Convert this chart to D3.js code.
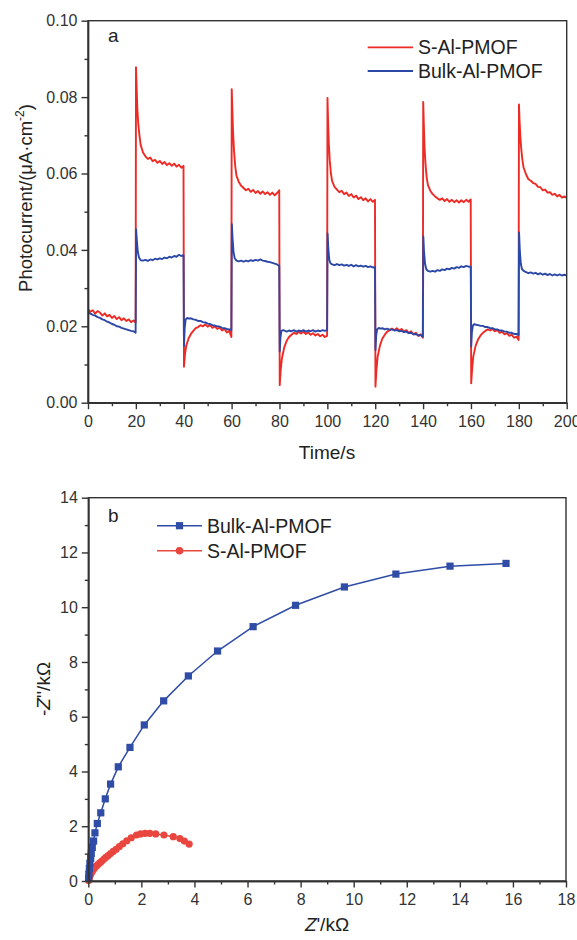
<!DOCTYPE html>
<html>
<head>
<meta charset="utf-8">
<script src="https://cdn.jsdelivr.net/npm/d3@7"></script>
<style>
  html, body { margin: 0; padding: 0; background: #fff; }
  svg { display: block; font-family: "Liberation Sans", Arial, sans-serif; }
  .axis path, .axis line { stroke: #333; stroke-width: 1.4; }
  .axis text { fill: #333; font-size: 16px; font-family: "Liberation Sans", Arial, sans-serif; }
</style>
</head>
<body>
<script>
const red = '#ee2a24'
const blue = '#2c48a6'
const eisRed = '#e8463f'
const eisBlue = '#2f4ca6'

// panel a : photocurrent (t in s, value in uA/cm2)
const sAlPhoto = [
  [0,0.0245],[1,0.0238],[2,0.0242],[3,0.0233],[4,0.0240],[5,0.0236],[6,0.0228],[7,0.0234],[8,0.0226],[9,0.0230],
  [10,0.0222],[11,0.0227],[12,0.0219],[13,0.0224],[14,0.0216],[15,0.0221],[16,0.0214],[17,0.0218],[18,0.0211],[19,0.0215],[19.9,0.0210],
  [20.05,0.0878],[20.3,0.083],[20.6,0.077],[21,0.073],[21.5,0.070],[22,0.0675],[23,0.0655],[24,0.0645],[25,0.0638],[26,0.0642],
  [27,0.0632],[28,0.0636],[29,0.0628],[30,0.0633],[31,0.0625],[32,0.0630],[33,0.0622],[34,0.0627],[35,0.0620],[36,0.0626],
  [37,0.0618],[38,0.0623],[39,0.0615],[39.9,0.0620],
  [40.1,0.0094],[40.5,0.0125],[41,0.0148],[42,0.0168],[43,0.0180],[44,0.0188],[45,0.0195],[46,0.0198],[47,0.0203],[48,0.0200],
  [49,0.0205],[50,0.0199],[51,0.0203],[52,0.0196],[53,0.0200],[54,0.0193],[55,0.0197],[56,0.0189],[57,0.0193],[58,0.0184],[59,0.0188],[59.9,0.0172],
  [60.05,0.0821],[60.3,0.077],[60.6,0.071],[61,0.066],[61.5,0.062],[62,0.0595],[63,0.0578],[64,0.0568],[65,0.0562],[66,0.0556],
  [67,0.0560],[68,0.0552],[69,0.0557],[70,0.0549],[71,0.0554],[72,0.0547],[73,0.0553],[74,0.0546],[75,0.0551],[76,0.0544],
  [77,0.0550],[78,0.0543],[79,0.0549],[79.9,0.0556],
  [80.1,0.0046],[80.5,0.0085],[81,0.0115],[82,0.0145],[83,0.0162],[84,0.0172],[85,0.0178],[86,0.0183],[87,0.0180],[88,0.0185],
  [89,0.0181],[90,0.0186],[91,0.0180],[92,0.0184],[93,0.0178],[94,0.0182],[95,0.0176],[96,0.0180],[97,0.0174],[98,0.0178],[99,0.0172],[99.9,0.0175],
  [100.05,0.0798],[100.3,0.074],[100.6,0.068],[101,0.0635],[101.5,0.060],[102,0.058],[103,0.0565],[104,0.0558],[105,0.0551],[106,0.0555],
  [107,0.0546],[108,0.0550],[109,0.0541],[110,0.0546],[111,0.0537],[112,0.0542],[113,0.0533],[114,0.0538],[115,0.0530],[116,0.0535],
  [117,0.0527],[118,0.0533],[119,0.0526],[119.9,0.0531],
  [120.1,0.0042],[120.5,0.0085],[121,0.0120],[122,0.0150],[123,0.0168],[124,0.0178],[125,0.0186],[126,0.0190],[127,0.0194],[128,0.0190],
  [129,0.0195],[130,0.0189],[131,0.0193],[132,0.0186],[133,0.0190],[134,0.0183],[135,0.0187],[136,0.0179],[137,0.0183],[138,0.0175],[139,0.0179],[139.9,0.0170],
  [140.05,0.0787],[140.3,0.073],[140.6,0.067],[141,0.0625],[141.5,0.059],[142,0.057],[143,0.0555],[144,0.0546],[145,0.0540],[146,0.0535],
  [147,0.0531],[148,0.0535],[149,0.0528],[150,0.0533],[151,0.0526],[152,0.0531],[153,0.0525],[154,0.0530],[155,0.0524],[156,0.0530],
  [157,0.0525],[158,0.0531],[159,0.0526],[159.9,0.0532],
  [160.1,0.0051],[160.5,0.0090],[161,0.0122],[162,0.0150],[163,0.0166],[164,0.0176],[165,0.0183],[166,0.0188],[167,0.0192],[168,0.0189],
  [169,0.0193],[170,0.0187],[171,0.0190],[172,0.0183],[173,0.0186],[174,0.0179],[175,0.0182],[176,0.0175],[177,0.0178],[178,0.0170],[179,0.0173],[179.9,0.0164],
  [180.05,0.0781],[180.3,0.074],[180.6,0.070],[181,0.0665],[181.5,0.0635],[182,0.0615],[183,0.0598],[184,0.0585],[185,0.0581],[186,0.0575],
  [187,0.0573],[188,0.0565],[189,0.0564],[190,0.0556],[191,0.0558],[192,0.0550],[193,0.0551],[194,0.0544],[195,0.0547],[196,0.0540],
  [197,0.0544],[198,0.0537],[199,0.0540],[200,0.0536]
]

const bulkPhoto = [
  [0,0.0237],[1,0.0233],[2,0.0230],[3,0.0228],[4,0.0224],[5,0.0222],[6,0.0218],[7,0.0216],[8,0.0212],[9,0.0210],
  [10,0.0206],[11,0.0204],[12,0.0200],[13,0.0199],[14,0.0196],[15,0.0194],[16,0.0192],[17,0.0190],[18,0.0188],[19,0.0187],[19.9,0.0183],
  [20.1,0.0454],[20.4,0.0425],[20.8,0.0395],[21.3,0.0380],[22,0.0373],[23,0.0372],[24,0.0374],[25,0.0371],[26,0.0375],[27,0.0373],
  [28,0.0377],[29,0.0375],[30,0.0378],[31,0.0376],[32,0.0380],[33,0.0378],[34,0.0382],[35,0.0380],[36,0.0384],[37,0.0382],
  [38,0.0387],[39,0.0384],[39.9,0.0386],
  [40.1,0.0148],[40.4,0.0195],[40.8,0.0218],[41.5,0.0222],[42,0.0220],[43,0.0221],[44,0.0218],[45,0.0217],[46,0.0214],[47,0.0214],
  [48,0.0211],[49,0.0210],[50,0.0207],[51,0.0206],[52,0.0203],[53,0.0202],[54,0.0200],[55,0.0199],[56,0.0196],[57,0.0195],
  [58,0.0193],[59,0.0192],[59.9,0.0190],
  [60.1,0.0467],[60.4,0.0430],[60.8,0.0395],[61.3,0.0378],[62,0.0372],[63,0.0370],[64,0.0372],[65,0.0369],[66,0.0372],[67,0.0370],
  [68,0.0373],[69,0.0371],[70,0.0374],[71,0.0372],[72,0.0375],[73,0.0372],[74,0.0371],[75,0.0369],[76,0.0368],[77,0.0366],
  [78,0.0364],[79,0.0362],[79.9,0.0358],
  [80.1,0.0134],[80.4,0.0170],[80.8,0.0188],[81.5,0.0190],[82,0.0189],[83,0.0186],[84,0.0189],[85,0.0187],[86,0.0190],[87,0.0186],
  [88,0.0189],[89,0.0187],[90,0.0190],[91,0.0186],[92,0.0189],[93,0.0187],[94,0.0190],[95,0.0186],[96,0.0189],[97,0.0187],
  [98,0.0190],[99,0.0188],[99.9,0.0190],
  [100.1,0.0443],[100.4,0.0405],[100.8,0.0375],[101.3,0.0365],[102,0.0362],[103,0.0360],[104,0.0363],[105,0.0360],[106,0.0362],[107,0.0359],
  [108,0.0361],[109,0.0358],[110,0.0361],[111,0.0357],[112,0.0360],[113,0.0357],[114,0.0359],[115,0.0356],[116,0.0358],[117,0.0355],
  [118,0.0357],[119,0.0354],[119.9,0.0355],
  [120.1,0.0138],[120.4,0.0175],[120.8,0.0192],[121.5,0.0196],[122,0.0194],[123,0.0195],[124,0.0192],[125,0.0194],[126,0.0191],[127,0.0192],
  [128,0.0189],[129,0.0190],[130,0.0187],[131,0.0188],[132,0.0185],[133,0.0186],[134,0.0182],[135,0.0183],[136,0.0179],[137,0.0180],
  [138,0.0176],[139,0.0177],[139.9,0.0173],
  [140.1,0.0435],[140.4,0.0395],[140.8,0.0365],[141.3,0.0350],[142,0.0345],[143,0.0343],[144,0.0345],[145,0.0343],[146,0.0347],[147,0.0345],
  [148,0.0349],[149,0.0347],[150,0.0351],[151,0.0349],[152,0.0353],[153,0.0351],[154,0.0355],[155,0.0353],[156,0.0357],[157,0.0355],
  [158,0.0358],[159,0.0356],[159.9,0.0356],
  [160.1,0.0147],[160.4,0.0185],[160.8,0.0202],[161.5,0.0206],[162,0.0204],[163,0.0203],[164,0.0201],[165,0.0201],[166,0.0198],[167,0.0198],
  [168,0.0195],[169,0.0195],[170,0.0192],[171,0.0192],[172,0.0189],[173,0.0189],[174,0.0186],[175,0.0186],[176,0.0183],[177,0.0183],
  [178,0.0180],[179,0.0180],[179.9,0.0177],
  [180.1,0.0446],[180.4,0.0400],[180.8,0.0365],[181.3,0.0350],[182,0.0345],[183,0.0342],[184,0.0339],[185,0.0341],[186,0.0338],[187,0.0340],
  [188,0.0336],[189,0.0339],[190,0.0335],[191,0.0338],[192,0.0334],[193,0.0337],[194,0.0333],[195,0.0336],[196,0.0333],[197,0.0336],
  [198,0.0333],[199,0.0335],[200,0.0333]
]

const timeTicks = [0, 20, 40, 60, 80, 100, 120, 140, 160, 180, 200]
const photoTicks = [0, 0.02, 0.04, 0.06, 0.08, 0.10]

// panel b : Nyquist plot (Z' , -Z'' in kOhm)
const bulkNyquist = [
  [0.01,0.1],[0.02,0.25],[0.04,0.46],[0.06,0.65],[0.09,0.83],[0.11,1.01],[0.15,1.23],[0.20,1.46],[0.25,1.76],[0.34,2.1],
  [0.47,2.49],[0.64,3.0],[0.84,3.54],[1.13,4.17],[1.57,4.88],[2.11,5.70],[2.84,6.58],[3.77,7.49],[4.87,8.40],[6.21,9.29],
  [7.81,10.07],[9.65,10.74],[11.59,11.21],[13.63,11.50],[15.74,11.60]
]
const sAlNyquist = [
  [0.01,0.02],[0.02,0.06],[0.04,0.12],[0.07,0.2],[0.1,0.27],[0.14,0.34],[0.19,0.41],[0.24,0.48],[0.3,0.54],[0.36,0.6],
  [0.43,0.66],[0.5,0.72],[0.58,0.79],[0.66,0.86],[0.75,0.93],[0.84,1.0],[0.94,1.08],[1.05,1.16],[1.17,1.26],[1.3,1.36],
  [1.45,1.47],[1.62,1.58],[1.82,1.68],[1.97,1.72],[2.14,1.74],[2.32,1.74],[2.54,1.72],[2.85,1.68],[3.2,1.62],[3.45,1.55],
  [3.62,1.46],[3.8,1.35]
]
const zReTicks = [0, 2, 4, 6, 8, 10, 12, 14, 16, 18]
const zImTicks = [0, 2, 4, 6, 8, 10, 12, 14]

const svg = d3.select('body').append('svg').attr('width', 577).attr('height', 940)

function frame(x, y, xMinor, yMinor, xTicks, yTicks, yFmt) {
  const [x0, x1] = x.range()
  const [y1, y0] = y.range()
  svg.append('g').attr('class', 'axis').attr('transform', `translate(0 ${y1})`)
    .call(d3.axisBottom(x).tickValues(xMinor).tickSize(3.5).tickFormat('').tickSizeOuter(0))
  svg.append('g').attr('class', 'axis').attr('transform', `translate(${x0} 0)`)
    .call(d3.axisLeft(y).tickValues(yMinor).tickSize(3.5).tickFormat('').tickSizeOuter(0))
  svg.append('g').attr('class', 'axis').attr('transform', `translate(0 ${y1})`)
    .call(d3.axisBottom(x).tickValues(xTicks).tickSize(6.5).tickPadding(6.5).tickSizeOuter(0))
  svg.append('g').attr('class', 'axis').attr('transform', `translate(${x0} 0)`)
    .call(d3.axisLeft(y).tickValues(yTicks).tickSize(6.5).tickPadding(4).tickFormat(yFmt).tickSizeOuter(0))
  svg.append('rect').attr('x', x0).attr('y', y0).attr('width', x1 - x0).attr('height', y1 - y0)
    .attr('fill', 'none').attr('stroke', '#333').attr('stroke-width', 1.4)
}

// ---------- panel a ----------
const xa = d3.scaleLinear().domain([0, 200]).range([88, 566.7])
const ya = d3.scaleLinear().domain([0, 0.10]).range([402.7, 20.7])

svg.append('clipPath').attr('id', 'clipA').append('rect')
  .attr('x', 88).attr('y', 20.7).attr('width', 566.7 - 88).attr('height', 402.7 - 20.7)

const lineA = d3.line().x(d => xa(d[0])).y(d => ya(d[1]))
const gA = svg.append('g').attr('clip-path', 'url(#clipA)')
gA.append('path').datum(sAlPhoto).attr('d', lineA).attr('fill', 'none').attr('stroke', red).attr('stroke-width', 1.9).attr('stroke-linejoin', 'round')
gA.append('path').datum(bulkPhoto).attr('d', lineA).attr('fill', 'none').attr('stroke', blue).attr('stroke-width', 1.9).attr('stroke-linejoin', 'round')

frame(xa, ya, d3.range(10, 200, 20), d3.range(0.01, 0.1, 0.02), timeTicks, photoTicks, d3.format('.2f'))

svg.append('text').attr('x', 108).attr('y', 42).attr('font-size', 19).attr('fill', '#222').text('a')

const legA = [{ name: 'S-Al-PMOF', color: red }, { name: 'Bulk-Al-PMOF', color: blue }]
legA.forEach((d, i) => {
  const y = 47.3 + i * 23.7
  svg.append('line').attr('x1', 367.7).attr('x2', 413).attr('y1', y).attr('y2', y).attr('stroke', d.color).attr('stroke-width', 1.8)
  svg.append('text').attr('x', 418).attr('y', y + 7).attr('font-size', 19.5).attr('fill', '#222').text(d.name)
})

svg.append('text').attr('x', 327).attr('y', 459).attr('text-anchor', 'middle').attr('font-size', 19).attr('fill', '#222').text('Time/s')

const yTitleA = svg.append('text').attr('transform', 'translate(32 198) rotate(-90)')
  .attr('text-anchor', 'middle').attr('font-size', 18.5).attr('fill', '#222')
yTitleA.append('tspan').text('Photocurrent/(μA·cm')
yTitleA.append('tspan').attr('font-size', 12).attr('dy', -8).text('-2')
yTitleA.append('tspan').attr('dy', 8).text(')')

// ---------- panel b ----------
const xb = d3.scaleLinear().domain([0, 18]).range([88.3, 566])
const yb = d3.scaleLinear().domain([0, 14]).range([881, 497.7])
const lineB = d3.line().x(d => xb(d[0])).y(d => yb(d[1]))

svg.append('path').datum(bulkNyquist).attr('d', lineB).attr('fill', 'none').attr('stroke', eisBlue).attr('stroke-width', 1.5)
svg.append('path').datum(sAlNyquist).attr('d', lineB).attr('fill', 'none').attr('stroke', eisRed).attr('stroke-width', 1.5)
svg.append('g').selectAll('circle').data(sAlNyquist).join('circle')
  .attr('cx', d => xb(d[0])).attr('cy', d => yb(d[1])).attr('r', 3.6).attr('fill', eisRed)
svg.append('g').selectAll('rect').data(bulkNyquist).join('rect')
  .attr('x', d => xb(d[0]) - 3.6).attr('y', d => yb(d[1]) - 3.6).attr('width', 7.2).attr('height', 7.2).attr('fill', eisBlue)

frame(xb, yb, d3.range(1, 18, 2), d3.range(1, 14, 2), zReTicks, zImTicks, d3.format('d'))

svg.append('text').attr('x', 108).attr('y', 522).attr('font-size', 19).attr('fill', '#222').text('b')

const legB = [{ name: 'Bulk-Al-PMOF', color: eisBlue, shape: 'square' }, { name: 'S-Al-PMOF', color: eisRed, shape: 'circle' }]
legB.forEach((d, i) => {
  const y = 525.7 + i * 25
  svg.append('line').attr('x1', 157).attr('x2', 202).attr('y1', y).attr('y2', y).attr('stroke', d.color).attr('stroke-width', 1.5)
  if (d.shape === 'square') {
    svg.append('rect').attr('x', 179.5 - 3.6).attr('y', y - 3.6).attr('width', 7.2).attr('height', 7.2).attr('fill', d.color)
  } else {
    svg.append('circle').attr('cx', 179.5).attr('cy', y).attr('r', 3.8).attr('fill', d.color)
  }
  svg.append('text').attr('x', 207).attr('y', y + 7).attr('font-size', 19.5).attr('fill', '#222').text(d.name)
})

const xTitleB = svg.append('text').attr('x', 327).attr('y', 931).attr('text-anchor', 'middle').attr('font-size', 19).attr('fill', '#222')
xTitleB.append('tspan').attr('font-style', 'italic').text('Z')
xTitleB.append('tspan').text("'/kΩ")

const yTitleB = svg.append('text').attr('transform', 'translate(50 689) rotate(-90)')
  .attr('text-anchor', 'middle').attr('font-size', 19).attr('fill', '#222')
yTitleB.append('tspan').text('-')
yTitleB.append('tspan').attr('font-style', 'italic').text('Z')
yTitleB.append('tspan').text("''/kΩ")
</script>
</body>
</html>
